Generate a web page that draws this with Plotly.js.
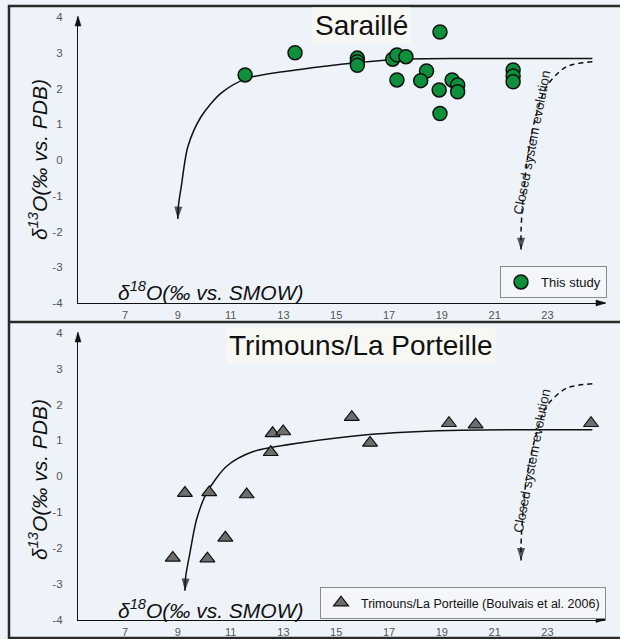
<!DOCTYPE html>
<html>
<head>
<meta charset="utf-8">
<script src="https://cdn.plot.ly/plotly-3.0.1.min.js"></script>
<style>html,body{margin:0;padding:0;background:#EEF3FA;}#chart{width:620px;height:639px;}</style>
</head>
<body>
<div id="chart"></div>
<script>
// ---- Data ----
// Saraillé (this study)
const sarX = [11.55, 13.44, 18.93, 15.8, 15.8, 15.8, 17.14, 17.3, 17.64, 17.3, 18.42, 18.2, 18.9, 18.93, 19.39, 19.6, 19.6, 21.7, 21.7, 21.7];
const sarY = [2.38, 3.0, 3.58, 2.85, 2.75, 2.65, 2.82, 2.94, 2.89, 2.24, 2.49, 2.22, 1.96, 1.3, 2.24, 2.1, 1.91, 2.52, 2.35, 2.19];
// Trimouns / La Porteille (Boulvais et al. 2006)
const triX = [8.81, 9.27, 10.12, 10.19, 10.8, 11.61, 12.52, 12.59, 12.99, 15.59, 16.28, 19.27, 20.28, 24.65];
const triY = [-2.28, -0.47, -2.3, -0.45, -1.72, -0.51, 0.67, 1.2, 1.25, 1.65, 0.93, 1.48, 1.44, 1.48];

// Guide curves (open-system trend, solid), from the flat end to the arrow tip
const topTrendX = [24.7, 19.94, 17.4, 15.77, 13.7, 11.65, 10.64, 9.88, 9.38, 9.13, 9.02, 9.0];
const topTrendY = [2.84, 2.84, 2.82, 2.72, 2.54, 2.29, 1.87, 1.21, 0.37, -0.75, -1.3, -1.65];
const botTrendX = [24.7, 19.3, 16.15, 13.8, 11.86, 10.85, 10.09, 9.71, 9.46, 9.3, 9.27];
const botTrendY = [1.3, 1.28, 1.16, 0.95, 0.69, 0.28, -0.47, -1.21, -2.14, -2.8, -3.2];
// Closed system evolution (dashed), ending at the arrow tip
const topClosedX = [24.7, 23.72, 22.96, 22.46, 22.2, 22.05, 22.0, 22.0];
const topClosedY = [2.75, 2.61, 2.05, 0.93, -0.19, -1.31, -2.0, -2.52];
const botClosedX = [24.7, 23.72, 22.96, 22.52, 22.2, 22.05, 22.0, 22.0];
const botClosedY = [2.58, 2.46, 1.95, 1.02, -0.09, -1.21, -1.9, -2.35];

// Tick labels
const xTicks = [7, 9, 11, 13, 15, 17, 19, 21, 23];
const yTicks = [4, 3, 2, 1, 0, -1, -2, -3, -4];
const yTickText = ['4', '3', '2', '1', '0', '-1', '-2', '-3', '-4'];

const panelTitles = ['Saraillé', 'Trimouns/La Porteille'];
const legendNames = ['This study', 'Trimouns/La Porteille (Boulvais et al. 2006)'];

// ---- Layout helpers ----
const W = 620, H = 639;
const FONT = 'Liberation Sans, Arial, sans-serif';
const px = v => v / W;
const py = v => 1 - v / H;
const XR = [5.22, 25.18];

function xaxisDef(anchor) {
  return {
    domain: [px(78), px(605)], range: XR, anchor: anchor,
    showgrid: false, zeroline: false, showline: true, linecolor: '#111', linewidth: 1.1,
    tickvals: xTicks, ticktext: xTicks.map(String),
    ticks: 'outside', ticklen: 2, tickcolor: 'rgba(0,0,0,0)',
    tickfont: {family: FONT, size: 11, color: '#555'}, fixedrange: true
  };
}
function yaxisDef(anchor, top, bottom) {
  return {
    domain: [py(bottom), py(top)], range: [-4, 4], anchor: anchor,
    showgrid: false, zeroline: false, showline: true, linecolor: '#111', linewidth: 1.1,
    tickvals: yTicks, ticktext: yTickText,
    ticks: 'outside', ticklen: 12, tickcolor: 'rgba(0,0,0,0)',
    tickfont: {family: FONT, size: 11.5, color: '#555'}, fixedrange: true
  };
}

function tipSizes(n, s) { return Array.from({length: n}, (_, i) => i === n - 1 ? s : 0); }

function guide(x, y, xa, ya, dashed) {
  return {
    x: x, y: y, xaxis: xa, yaxis: ya, mode: 'lines+markers',
    line: {color: '#111', width: 1.5, shape: 'spline', smoothing: 0.8, dash: dashed ? '5px,4px' : 'solid', backoff: 'auto'},
    marker: {symbol: 'arrow', angleref: 'previous', size: tipSizes(x.length, 13), color: '#111', line: {width: 0}},
    showlegend: false, hoverinfo: 'skip', cliponaxis: false
  };
}

const traces = [
  guide(topTrendX, topTrendY, 'x', 'y', false),
  guide(topClosedX, topClosedY, 'x', 'y', true),
  {x: sarX, y: sarY, xaxis: 'x', yaxis: 'y', mode: 'markers', name: legendNames[0], legend: 'legend',
   marker: {symbol: 'circle', size: 14, color: '#0E8F3C', line: {color: '#111', width: 1.5}}, cliponaxis: false},
  guide(botTrendX, botTrendY, 'x2', 'y2', false),
  guide(botClosedX, botClosedY, 'x2', 'y2', true),
  {x: triX, y: triY, xaxis: 'x2', yaxis: 'y2', mode: 'markers', name: legendNames[1], legend: 'legend2',
   marker: {symbol: 'triangle-up', size: 13, color: '#6E6E6E', line: {color: '#111', width: 1.2}}, cliponaxis: false}
];

function tri(pts) {
  return {type: 'path', xref: 'paper', yref: 'paper', fillcolor: '#111', line: {color: '#111', width: 0.5},
          path: 'M' + pts.map(p => px(p[0]) + ',' + py(p[1])).join('L') + 'Z'};
}

const annotations = [
  {xref: 'paper', yref: 'paper', x: px(361), y: py(25), text: panelTitles[0], showarrow: false, xanchor: 'center', yanchor: 'middle',
   font: {family: FONT, size: 28, color: '#111'}, bgcolor: '#F7F7F4', borderpad: 2},
  {xref: 'paper', yref: 'paper', x: px(361), y: py(345), text: panelTitles[1], showarrow: false, xanchor: 'center', yanchor: 'middle',
   font: {family: FONT, size: 28, color: '#111'}, bgcolor: '#F7F7F4', borderpad: 2},
  {xref: 'paper', yref: 'paper', x: px(38), y: py(160), text: '<i>δ<sup>13</sup>O(‰ vs. PDB)</i>', textangle: -90, showarrow: false,
   xanchor: 'center', yanchor: 'middle', font: {family: FONT, size: 21, color: '#111'}},
  {xref: 'paper', yref: 'paper', x: px(38), y: py(480), text: '<i>δ<sup>13</sup>O(‰ vs. PDB)</i>', textangle: -90, showarrow: false,
   xanchor: 'center', yanchor: 'middle', font: {family: FONT, size: 21, color: '#111'}},
  {xref: 'paper', yref: 'paper', x: px(211), y: py(291), text: '<i>δ<sup>18</sup>O(‰ vs. SMOW)</i>', showarrow: false,
   xanchor: 'center', yanchor: 'middle', font: {family: FONT, size: 21, color: '#111'}},
  {xref: 'paper', yref: 'paper', x: px(211), y: py(609), text: '<i>δ<sup>18</sup>O(‰ vs. SMOW)</i>', showarrow: false,
   xanchor: 'center', yanchor: 'middle', font: {family: FONT, size: 21, color: '#111'}},
  {xref: 'x', yref: 'y', x: 22.42, y: 0.49, text: 'Closed system evolution', textangle: -79, showarrow: false,
   xanchor: 'center', yanchor: 'middle', font: {family: FONT, size: 13.5, color: '#222'}},
  {xref: 'x2', yref: 'y2', x: 22.4, y: 0.42, text: 'Closed system evolution', textangle: -79, showarrow: false,
   xanchor: 'center', yanchor: 'middle', font: {family: FONT, size: 13.5, color: '#222'}}
];

const shapes = [
  {type: 'rect', xref: 'paper', yref: 'paper', x0: px(9), x1: 1.05, y0: py(638), y1: py(6), line: {color: '#2a2a2a', width: 2.5}},
  {type: 'line', xref: 'paper', yref: 'paper', x0: px(9), x1: 1.05, y0: py(322), y1: py(322), line: {color: '#2a2a2a', width: 2.5}},
  // axis arrowheads
  tri([[606, 303], [596, 300], [596, 306]]),
  tri([[78, 16], [75, 26], [81, 26]]),
  tri([[606, 619.5], [596, 616.5], [596, 622.5]]),
  tri([[78, 332], [75, 342], [81, 342]])
];

const layout = {
  width: W, height: H,
  margin: {l: 0, r: 0, t: 0, b: 0},
  paper_bgcolor: '#EEF3FA', plot_bgcolor: 'rgba(0,0,0,0)',
  font: {family: FONT},
  xaxis: xaxisDef('y'), yaxis: yaxisDef('x', 17, 303),
  xaxis2: xaxisDef('y2'), yaxis2: yaxisDef('x2', 333, 619.5),
  legend: {x: px(607), y: py(266), xanchor: 'right', yanchor: 'top', bgcolor: '#F4F6F9', bordercolor: '#8a8a8a', borderwidth: 1,
           font: {family: FONT, size: 13, color: '#111'}, itemwidth: 30, tracegroupgap: 0},
  legend2: {x: px(606), y: py(587), xanchor: 'right', yanchor: 'top', bgcolor: '#F4F6F9', bordercolor: '#8a8a8a', borderwidth: 1,
            font: {family: FONT, size: 12.5, color: '#111'}, itemwidth: 30, tracegroupgap: 0},
  showlegend: true,
  annotations: annotations, shapes: shapes
};

Plotly.newPlot('chart', traces, layout, {staticPlot: true, displayModeBar: false});
</script>
</body>
</html>
